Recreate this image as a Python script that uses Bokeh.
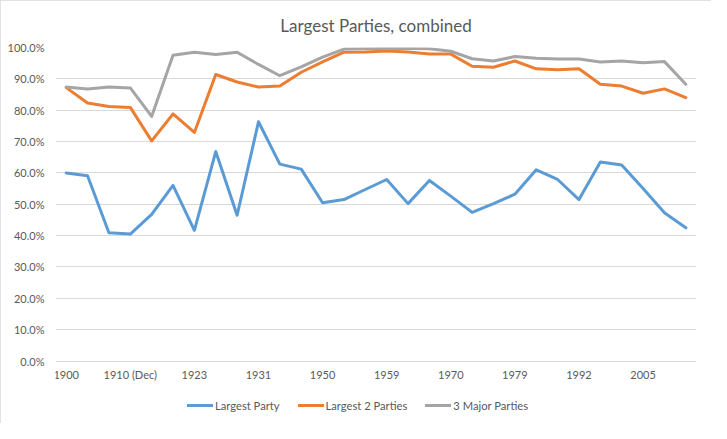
from bokeh.plotting import figure
from bokeh.models import Range1d, FixedTicker, PrintfTickFormatter, Legend, LegendItem
from bokeh.embed import file_html
from bokeh.resources import INLINE

categories = ["1900", "1906", "1910 (Jan)", "1910 (Dec)", "1918", "1922", "1923", "1924",
              "1929", "1931", "1935", "1945", "1950", "1951", "1955", "1959", "1964",
              "1966", "1970", "1974 (Feb)", "1974 (Oct)", "1979", "1983", "1987", "1992",
              "1997", "2001", "2005", "2010", "2015"]

largest_party = [60.0, 59.1, 40.9, 40.5, 46.8, 56.0, 41.7, 66.8, 46.5, 76.3,
                 62.8, 61.2, 50.5, 51.5, 54.7, 57.9, 50.2, 57.6, 52.6, 47.4,
                 50.2, 53.2, 61.0, 57.9, 51.5, 63.5, 62.5, 55.0, 47.3, 42.5]

largest_2_parties = [87.2, 82.3, 81.2, 80.9, 70.2, 78.8, 72.9, 91.4, 89.0, 87.4,
                     87.7, 92.1, 95.4, 98.5, 98.6, 98.9, 98.6, 97.9, 97.9, 94.0,
                     93.7, 95.7, 93.2, 92.9, 93.2, 88.3, 87.7, 85.4, 86.8, 84.0]

three_major_parties = [87.4, 86.8, 87.4, 87.1, 78.0, 97.5, 98.5, 97.8, 98.5, 94.6,
                       91.0, 93.8, 96.9, 99.5, 99.6, 99.7, 99.7, 99.6, 98.8, 96.4,
                       95.7, 97.1, 96.6, 96.3, 96.3, 95.4, 95.7, 95.1, 95.5, 88.3]

series_names = ["Largest Party", "Largest 2 Parties", "3 Major Parties"]
series_colors = ["#5B9BD5", "#ED7D31", "#A5A5A5"]
y_ticks = list(range(0, 101, 10))

label_every = 3
x = list(range(len(categories)))
tick_pos = x[::label_every]

FONT = "Lato"
TEXT = "#595959"

W, H = 711, 423
TOP, LEFT, RIGHT = 47, 55, 15
ZERO_Y = 360.5  # pixel row of the 0 % line, from the top of the figure
px_per_unit = (ZERO_Y - TOP) / 100
below_units = (H - ZERO_Y) / px_per_unit

p = figure(width=W, height=H, output_backend="svg", toolbar_location=None,
           x_range=Range1d(-0.5, len(categories) - 0.5), y_range=Range1d(-below_units, 100),
           min_border_left=LEFT, min_border_right=RIGHT, min_border_top=TOP, min_border_bottom=0,
           title="Largest Parties, combined")
p.styles = {"outline": "1px solid #d9d9d9", "outline-offset": "-1px"}

p.title.align = "center"
p.title.text_font = FONT
p.title.text_font_size = "17px"
p.title.text_font_style = "normal"
p.title.text_color = TEXT
p.title.standoff = 23

p.outline_line_color = None
p.xgrid.grid_line_color = None
p.ygrid.grid_line_color = "#D9D9D9"
p.ygrid.grid_line_width = 1

p.yaxis.ticker = FixedTicker(ticks=y_ticks)
p.yaxis.formatter = PrintfTickFormatter(format="%.1f%%")
p.xaxis.ticker = FixedTicker(ticks=tick_pos)
p.xaxis.major_label_overrides = {i: categories[i] for i in tick_pos}
p.xaxis.fixed_location = 0

for ax in (p.xaxis[0], p.yaxis[0]):
    ax.axis_line_color = None
    ax.major_tick_line_color = None
    ax.minor_tick_line_color = None
    ax.major_tick_out = 0
    ax.major_tick_in = 0
    ax.major_label_text_font = FONT
    ax.major_label_text_font_size = "11px"
    ax.major_label_text_color = TEXT
p.yaxis.major_label_standoff = 11
p.xaxis.major_label_standoff = 7

items = []
for name, vals, col in zip(series_names, [largest_party, largest_2_parties, three_major_parties], series_colors):
    r = p.line(x, vals, line_color=col, line_width=3, line_join="round", line_cap="round")
    items.append(LegendItem(label=name, renderers=[r]))

legend = Legend(items=items, orientation="horizontal", location=(132, 10),
                label_text_font=FONT, label_text_font_size="11.2px", label_text_color=TEXT,
                glyph_width=26, glyph_height=16, label_height=16, label_standoff=2, spacing=18,
                padding=4, margin=0, border_line_color=None, background_fill_alpha=0)
p.add_layout(legend, "center")

open("out.html", "w").write(file_html(p, INLINE))
